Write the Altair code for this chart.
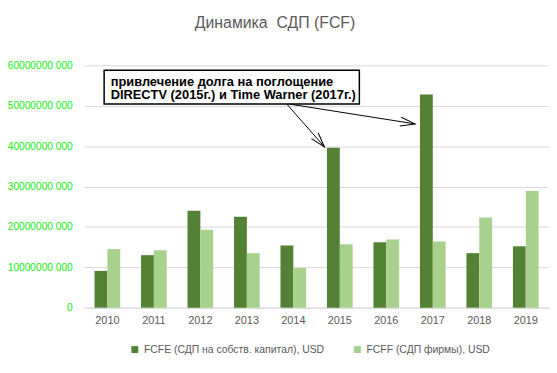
import altair as alt
import pandas as pd

# ---- data ----
years = ["2010", "2011", "2012", "2013", "2014", "2015", "2016", "2017", "2018", "2019"]
fcfe = [9.1e9, 13.0e9, 24.0e9, 22.5e9, 15.4e9, 39.6e9, 16.2e9, 52.8e9, 13.5e9, 15.2e9]
fcff = [14.5e9, 14.2e9, 19.3e9, 13.5e9, 9.8e9, 15.7e9, 16.9e9, 16.4e9, 22.3e9, 28.9e9]
series_names = ["FCFE (СДП на собств. капитал), USD", "FCFF (СДП фирмы), USD"]
series_colors = ["#548235", "#A9D18E"]
y_ticks = [0, 10e9, 20e9, 30e9, 40e9, 50e9, 60e9]

title_text = "Динамика\u00a0 СДП (FCF)"
note_lines = ["привлечение долга на поглощение", "DIRECTV (2015г.) и Time Warner (2017г.)"]

# annotation geometry in (category-index units, value units)
box_x = [0.43, 5.92]
box_y = [50.4e9, 58.8e9]
note_x = [0.57, 0.57]
note_y = [55.0e9, 51.6e9]
arrow_from_x = [4.36, 4.42]
arrow_from_y = [50.4e9, 50.4e9]
arrow_to_x = [5.17, 7.12]
arrow_to_y = [39.8e9, 45.5e9]
arrow_angle = [49, 9]

FONT = "Liberation Sans"
GRAY = "#595959"

rows = []
for i, yr in enumerate(years):
    rows.append({"year": yr, "series": series_names[0], "value": fcfe[i]})
    rows.append({"year": yr, "series": series_names[1], "value": fcff[i]})
df = pd.DataFrame(rows)

y_scale = alt.Scale(domain=[0, 60e9], nice=False)

bars = alt.Chart(df).mark_bar().encode(
    x=alt.X("year:N", sort=years,
            scale=alt.Scale(paddingInner=0.447, paddingOuter=0.2235),
            axis=alt.Axis(title=None, labelAngle=0, labelFontSize=11, labelFont=FONT,
                          labelColor=GRAY, ticks=False, domainColor="#D9D9D9",
                          domainWidth=1, labelPadding=7, grid=False)),
    xOffset=alt.XOffset("series:N", sort=series_names,
                        scale=alt.Scale(paddingInner=0, paddingOuter=0)),
    y=alt.Y("value:Q", scale=y_scale,
            axis=alt.Axis(title=None, values=y_ticks, grid=True, gridColor="#D9D9D9",
                          gridWidth=1, ticks=False, domain=False, labelFontSize=10.3,
                          labelFont=FONT, labelColor="#11EE11", labelPadding=12,
                          labelExpr="datum.value == 0 ? '0' : format(datum.value/1000, 'd') + ' 000'")),
    color=alt.Color("series:N", sort=series_names,
                    scale=alt.Scale(domain=series_names, range=series_colors),
                    legend=alt.Legend(orient="none", legendX=46, legendY=282,
                                      direction="horizontal", title=None,
                                      symbolType="square", symbolSize=49,
                                      symbolStrokeWidth=0, labelFontSize=10.5,
                                      labelFont=FONT, labelColor=GRAY,
                                      columnPadding=28, labelOffset=4, padding=0,
                                      labelLimit=400)),
)

ax_scale = alt.Scale(domain=[0, 10], nice=False, zero=False)

box_df = pd.DataFrame({"x1": [box_x[0]], "x2": [box_x[1]], "y1": [box_y[0]], "y2": [box_y[1]]})
box = alt.Chart(box_df).mark_rect(fill="white", stroke="black", strokeWidth=1.5).encode(
    x=alt.X("x1:Q", scale=ax_scale, axis=None),
    x2="x2:Q",
    y=alt.Y("y1:Q", scale=y_scale),
    y2="y2:Q",
)

note_df = pd.DataFrame({"x": note_x, "y": note_y, "t": note_lines})
note = alt.Chart(note_df).mark_text(align="left", baseline="alphabetic", font=FONT,
                                    fontSize=13, fontWeight="bold", color="black").encode(
    x=alt.X("x:Q", scale=ax_scale, axis=None),
    y=alt.Y("y:Q", scale=y_scale),
    text="t:N",
)

arr_df = pd.DataFrame({"x1": arrow_from_x, "y1": arrow_from_y, "x2": arrow_to_x,
                       "y2": arrow_to_y, "ang": arrow_angle})
shafts = alt.Chart(arr_df).mark_rule(color="black", strokeWidth=1).encode(
    x=alt.X("x1:Q", scale=ax_scale, axis=None),
    x2="x2:Q",
    y=alt.Y("y1:Q", scale=y_scale),
    y2="y2:Q",
)
heads = alt.Chart(arr_df).mark_point(
    shape="M -1 -0.3 L 0 0 L -1 0.3", filled=False, stroke="black", strokeWidth=1,
    size=900, opacity=1).encode(
    x=alt.X("x2:Q", scale=ax_scale, axis=None),
    y=alt.Y("y2:Q", scale=y_scale),
    angle=alt.Angle("ang:Q", scale=None),
)

chart = alt.layer(bars, box, note, shafts, heads).resolve_scale(x="independent").properties(
    width=470, height=245,
    autosize=alt.AutoSizeParams(type="none"),
    padding={"left": 77, "top": 56, "right": 0, "bottom": 56},
    title=alt.TitleParams(text=title_text, anchor="middle", dx=-42, offset=17,
                          baseline="alphabetic", fontSize=16, font=FONT,
                          fontWeight="normal", color=GRAY),
).configure_view(stroke=None)

chart.save("out.html", embed_options={"renderer": "svg", "actions": False})
